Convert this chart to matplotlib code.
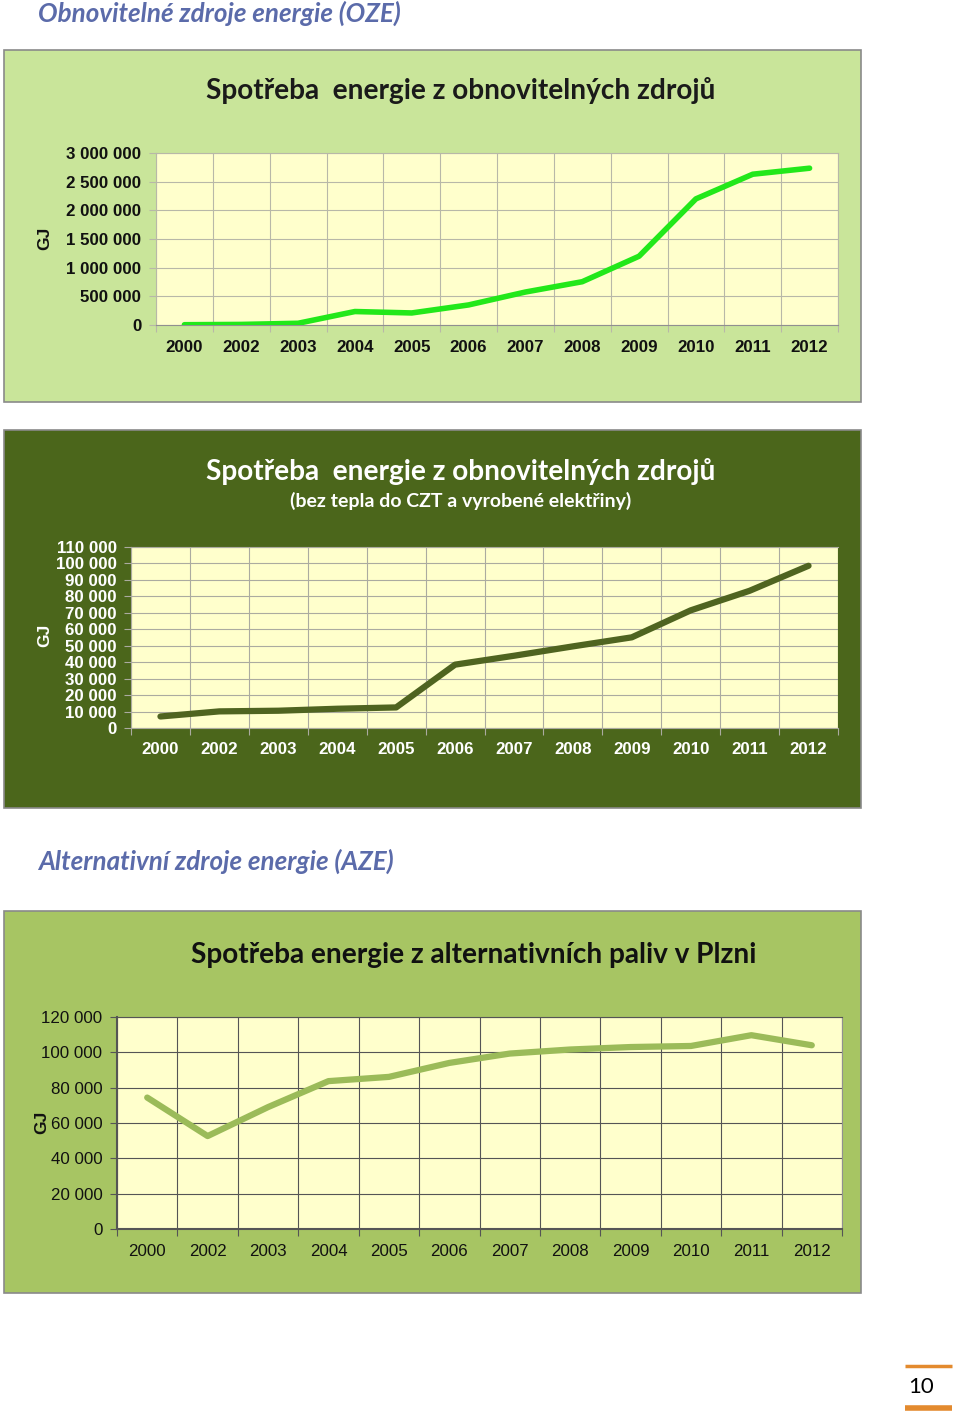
import matplotlib
matplotlib.use('Agg')
import matplotlib.pyplot as plt
from matplotlib.patches import Rectangle
from matplotlib.lines import Line2D

# Data
years = ['2000', '2002', '2003', '2004', '2005', '2006',
         '2007', '2008', '2009', '2010', '2011', '2012']
oze_total = [5000, 10000, 30000, 235000, 210000, 350000,
             575000, 755000, 1200000, 2200000, 2630000, 2735000]
oze_net = [7000, 10100, 10500, 11700, 12500, 38500,
           43900, 49600, 55100, 71500, 83400, 98600]
aze = [74400, 52600, 69000, 83700, 86100, 94000,
       99300, 101600, 103000, 103600, 109700, 104000]

W, H = 960, 1418
fig = plt.figure(figsize=(W / 100, H / 100), dpi=100)
fig.patch.set_facecolor('white')

TICK_FONT = 'Liberation Sans'
TITLE_FONT = 'Lato'


def fx(x):
    return x / W


def fy(y):
    return 1 - y / H


def panel(x0, y0, x1, y1, color):
    fig.patches.append(Rectangle((fx(x0), fy(y1)), fx(x1 - x0), (y1 - y0) / H,
                                 transform=fig.transFigure, facecolor=color,
                                 edgecolor='#8a8a8a', linewidth=1.2, zorder=-5))


def make_axes(x0, y0, x1, y1):
    return fig.add_axes([fx(x0), fy(y1), fx(x1 - x0), (y1 - y0) / H])


def fmt(v):
    return f'{v:,}'.replace(',', ' ')


def line_chart(ax, values, ymax, ystep, color, lw, tick_color, weight,
               grid_color, fsize, ypad, xpad):
    n = len(values)
    xs = [i + 0.5 for i in range(n)]
    ax.set_facecolor('#FFFFCC')
    ax.plot(xs, values, color=color, linewidth=lw, solid_capstyle='round',
            solid_joinstyle='round', zorder=3)
    ax.set_xlim(0, n)
    ax.set_ylim(0, ymax)
    yt = list(range(0, ymax + 1, ystep))
    ax.set_yticks(yt)
    ax.set_yticklabels([fmt(v) for v in yt], fontfamily=TICK_FONT,
                       fontweight=weight, fontsize=fsize, color=tick_color)
    ax.set_xticks(range(n + 1))
    ax.set_xticklabels([])
    ax.set_xticks(xs, minor=True)
    ax.set_xticklabels(years, minor=True, fontfamily=TICK_FONT,
                       fontweight=weight, fontsize=fsize, color=tick_color)
    ax.tick_params(axis='x', which='minor', length=0, pad=xpad)
    ax.tick_params(axis='x', which='major', length=5, color=grid_color)
    ax.tick_params(axis='y', length=5, color=grid_color, pad=ypad)
    ax.grid(True, which='major', color=grid_color, linewidth=0.8, zorder=1)
    ax.set_axisbelow(True)
    for s in ax.spines.values():
        s.set_color(grid_color)
        s.set_linewidth(0.8)


# Section headings
fig.text(fx(38), fy(13), 'Obnovitelné zdroje energie (OZE)', fontfamily=TITLE_FONT,
         fontstyle='italic', fontweight='bold', fontsize=18.7, color='#5B6BAA',
         ha='left', va='center')
fig.text(fx(38), fy(861), 'Alternativní zdroje energie (AZE)', fontfamily=TITLE_FONT,
         fontstyle='italic', fontweight='bold', fontsize=18.7, color='#5B6BAA',
         ha='left', va='center')

# Panel 1
panel(4, 50, 861, 402, '#C9E59A')
fig.text(fx(461), fy(91), 'Spotřeba  energie z obnovitelných zdrojů',
         fontfamily=TITLE_FONT, fontweight='bold', fontsize=20.2, color='#1a1a1a',
         ha='center', va='center')
ax1 = make_axes(156, 153, 838, 325)
line_chart(ax1, oze_total, 3000000, 500000, '#22E81A', 4, '#111111', 'bold',
           '#B8B8A8', 12.2, 5.5, 10.5)
ax1.spines['bottom'].set_color('#909090')
fig.text(fx(45), fy(238), 'GJ', fontfamily=TICK_FONT, fontweight='bold',
         fontsize=12.5, rotation=90, ha='center', va='center', color='#111111')

# Panel 2
panel(4, 430, 861, 808, '#4B661B')
fig.text(fx(461), fy(472), 'Spotřeba  energie z obnovitelných zdrojů',
         fontfamily=TITLE_FONT, fontweight='bold', fontsize=20.2, color='white',
         ha='center', va='center')
fig.text(fx(461), fy(501), '(bez tepla do CZT a vyrobené elektřiny)',
         fontfamily=TITLE_FONT, fontweight='bold', fontsize=14, color='white',
         ha='center', va='center')
ax2 = make_axes(131, 547, 838, 728)
line_chart(ax2, oze_net, 110000, 10000, '#4F6420', 4.5, 'white', 'bold',
           '#ABABA0', 12.2, 5, 10)
ax2.spines['right'].set_color('#4B661B')
fig.text(fx(45), fy(635), 'GJ', fontfamily=TICK_FONT, fontweight='bold',
         fontsize=12.5, rotation=90, ha='center', va='center', color='white')

# Panel 3
panel(4, 911, 861, 1293, '#A7C563')
fig.text(fx(474), fy(955), 'Spotřeba energie z alternativních paliv v Plzni',
         fontfamily=TITLE_FONT, fontweight='bold', fontsize=20.2, color='#111111',
         ha='center', va='center')
ax3 = make_axes(117, 1017, 842, 1229)
line_chart(ax3, aze, 120000, 20000, '#9BBB59', 4.5, '#111111', 'normal',
           '#555555', 12.2, 5.5, 10.5)
ax3.spines['left'].set_linewidth(1.5)
ax3.spines['bottom'].set_linewidth(1.5)
ax3.spines['right'].set_color('#909090')
fig.text(fx(42), fy(1122), 'GJ', fontfamily=TICK_FONT, fontweight='bold',
         fontsize=12.5, rotation=90, ha='center', va='center', color='#111111')

# Page number
for yy, lw in ((1366, 2.5), (1408, 4)):
    fig.lines.append(Line2D([fx(905), fx(952)], [fy(yy), fy(yy)],
                            transform=fig.transFigure, color='#E38A2E',
                            linewidth=lw, solid_capstyle='butt'))
fig.text(fx(921), fy(1387), '10', fontfamily=TITLE_FONT, fontsize=16,
         color='black', ha='center', va='center')

fig.savefig('out.png', dpi=100)
